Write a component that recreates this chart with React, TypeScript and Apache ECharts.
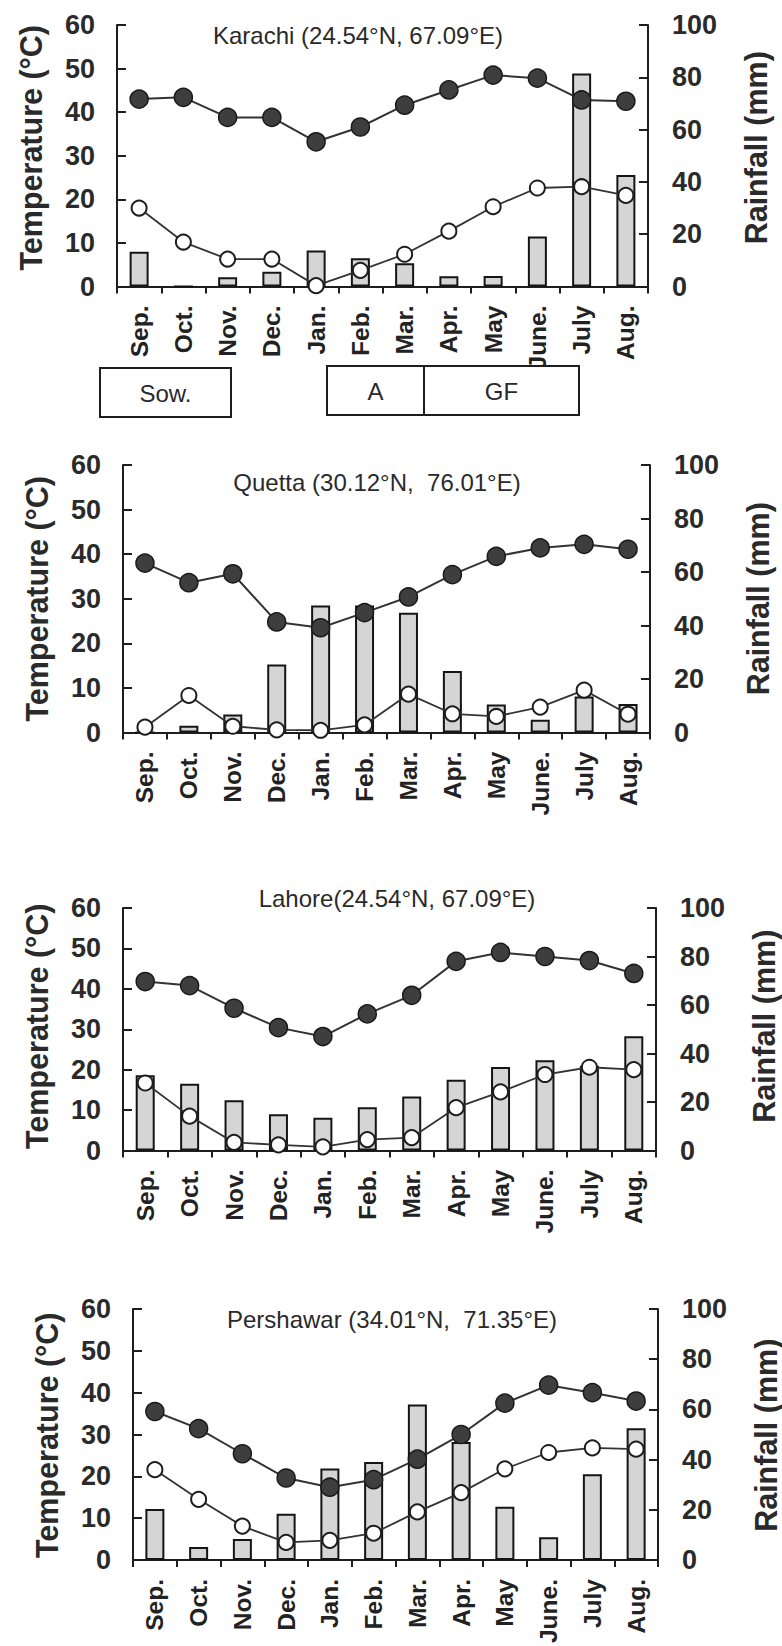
import React, { useEffect, useRef } from "react";
import * as echarts from "echarts";

const MONTHS = ["Sep.", "Oct.", "Nov.", "Dec.", "Jan.", "Feb.", "Mar.", "Apr.", "May", "June.", "July", "Aug."];
const TEMP_TICKS = [0, 10, 20, 30, 40, 50, 60];
const RAIN_TICKS = [0, 20, 40, 60, 80, 100];

const karachiTitle = "Karachi (24.54°N, 67.09°E)";
const karachiMax = [43, 43.4, 38.8, 38.8, 33.2, 36.6, 41.6, 45.1, 48.5, 47.8, 42.8, 42.5];
const karachiMin = [18, 10.2, 6.3, 6.3, 0.2, 3.7, 7.4, 12.7, 18.3, 22.6, 22.9, 20.9];
const karachiRain = [13.3, 0, 3.5, 5.6, 13.8, 10.8, 8.9, 3.9, 4, 19.1, 81.5, 42.6];

const quettaTitle = "Quetta (30.12°N,  76.01°E)";
const quettaMax = [38, 33.6, 35.6, 24.8, 23.5, 26.9, 30.4, 35.4, 39.5, 41.4, 42.2, 41.1];
const quettaMin = [1.2, 8.3, 1.4, 0.6, 0.5, 1.7, 8.6, 4.2, 3.6, 5.7, 9.5, 4.1];
const quettaRain = [0, 2.5, 6.7, 25.4, 47.5, 47.5, 44.8, 23, 10.5, 4.8, 13.5, 10.7];

const lahoreTitle = "Lahore(24.54°N, 67.09°E)";
const lahoreMax = [41.8, 40.8, 35.2, 30.4, 28.2, 33.8, 38.4, 46.8, 49, 48, 47, 43.8];
const lahoreMin = [16.7, 8.5, 2, 1.4, 0.9, 2.7, 3.2, 10.6, 14.5, 18.8, 20.6, 20];
const lahoreRain = [31, 27.5, 20.7, 14.9, 13.5, 17.8, 22.3, 29.2, 34.4, 37.2, 35, 47.1];

const pershawarTitle = "Pershawar (34.01°N,  71.35°E)";
const pershawarMax = [35.5, 31.4, 25.4, 19.6, 17.4, 19.2, 24.1, 30, 37.5, 41.8, 40, 38];
const pershawarMin = [21.6, 14.5, 8.1, 4.2, 4.7, 6.4, 11.5, 16.1, 21.8, 25.7, 26.8, 26.5];
const pershawarRain = [20.3, 5.2, 8.4, 18.4, 36.5, 39, 62, 47, 21.2, 9.1, 34.2, 52.5];

const STAGE_LABELS = ["Sow.", "A", "GF"];

const FONT = "'Liberation Sans', Arial, Helvetica, sans-serif";
const INK = "#1e1e1e";

// layout (pixels)
const PANELS = [
  { title: karachiTitle, max: karachiMax, min: karachiMin, rain: karachiRain, left: 117, right: 648, top: 25, bottom: 286.5, titleX: 358, titleY: 35, nameShift: -8 },
  { title: quettaTitle, max: quettaMax, min: quettaMin, rain: quettaRain, left: 123, right: 650, top: 465, bottom: 732.5, titleX: 377, titleY: 482, nameShift: 0 },
  { title: lahoreTitle, max: lahoreMax, min: lahoreMin, rain: lahoreRain, left: 123, right: 656, top: 908, bottom: 1150.5, titleX: 397, titleY: 898, nameShift: -3 },
  { title: pershawarTitle, max: pershawarMax, min: pershawarMin, rain: pershawarRain, left: 133, right: 658, top: 1309, bottom: 1561.5, titleX: 392, titleY: 1319, nameShift: 0 },
];

const STAGE_BOXES = [
  { x: 100, y: 368, w: 131, h: 49 },
  { x: 327, y: 366, w: 97, h: 49 },
  { x: 424, y: 366, w: 155, h: 49 },
];

function buildOption() {
  const grid: any[] = [];
  const xAxis: any[] = [];
  const yAxis: any[] = [];
  const series: any[] = [];
  const graphic: any[] = [];

  PANELS.forEach((p, i) => {
    grid.push({ left: p.left, top: p.top, width: p.right - p.left, height: p.bottom - p.top });
    xAxis.push({
      type: "category",
      gridIndex: i,
      data: MONTHS,
      boundaryGap: true,
      axisLine: { show: true, lineStyle: { color: INK, width: 2 } },
      axisTick: { show: true, inside: false, length: 7, alignWithLabel: false, lineStyle: { color: INK, width: 2 } },
      axisLabel: {
        interval: 0,
        rotate: 90,
        margin: 19,
        fontSize: 24.5,
        fontWeight: "bold",
        fontFamily: FONT,
        color: "#222",
      },
      splitLine: { show: false },
    });
    yAxis.push({
      type: "value",
      gridIndex: i,
      position: "left",
      min: TEMP_TICKS[0],
      max: TEMP_TICKS[TEMP_TICKS.length - 1],
      interval: TEMP_TICKS[1] - TEMP_TICKS[0],
      axisLine: { show: true, onZero: false, lineStyle: { color: INK, width: 2 } },
      axisTick: { show: true, inside: true, length: 9, lineStyle: { color: INK, width: 2 } },
      axisLabel: { margin: 22, fontSize: 27, fontWeight: "bold", fontFamily: FONT, color: "#2a2a2a" },
      splitLine: { show: false },
    });
    yAxis.push({
      type: "value",
      gridIndex: i,
      position: "right",
      min: RAIN_TICKS[0],
      max: RAIN_TICKS[RAIN_TICKS.length - 1],
      interval: RAIN_TICKS[1] - RAIN_TICKS[0],
      axisLine: { show: true, onZero: false, lineStyle: { color: INK, width: 2 } },
      axisTick: { show: true, inside: true, length: 9, lineStyle: { color: INK, width: 2 } },
      axisLabel: { margin: 24, fontSize: 27, fontWeight: "bold", fontFamily: FONT, color: "#2a2a2a" },
      splitLine: { show: false },
    });

    series.push({
      type: "bar",
      xAxisIndex: i,
      yAxisIndex: i * 2 + 1,
      data: p.rain,
      barWidth: 19,
      itemStyle: { color: "#d5d5d5", borderColor: "#151515", borderWidth: 2 },
      z: 2,
    });
    series.push({
      type: "line",
      xAxisIndex: i,
      yAxisIndex: i * 2,
      data: p.max,
      symbol: "circle",
      symbolSize: 18,
      itemStyle: { color: "#3e3e3e", borderColor: "#1a1a1a", borderWidth: 1.5 },
      lineStyle: { color: "#333", width: 2 },
      z: 3,
    });
    series.push({
      type: "line",
      xAxisIndex: i,
      yAxisIndex: i * 2,
      data: p.min,
      symbol: "circle",
      symbolSize: 15,
      itemStyle: { color: "#ffffff", borderColor: "#1e1e1e", borderWidth: 2 },
      lineStyle: { color: "#333", width: 1.8 },
      z: 4,
    });

    const midY = (p.top + p.bottom) / 2 + p.nameShift;
    graphic.push({
      type: "text",
      x: p.left - 86,
      y: midY,
      rotation: Math.PI / 2,
      style: {
        text: "Temperature (°C)",
        fontSize: 30.5,
        fontWeight: "bold",
        fontFamily: FONT,
        fill: "#2a2a2a",
        align: "center",
        verticalAlign: "middle",
      },
    });
    graphic.push({
      type: "text",
      x: p.right + 108,
      y: midY,
      rotation: Math.PI / 2,
      style: {
        text: "Rainfall (mm)",
        fontSize: 30.5,
        fontWeight: "bold",
        fontFamily: FONT,
        fill: "#2a2a2a",
        align: "center",
        verticalAlign: "middle",
      },
    });

    graphic.push({
      type: "text",
      x: p.titleX,
      y: p.titleY,
      style: {
        text: p.title,
        fontSize: 24,
        fontFamily: FONT,
        fill: "#2a2a2a",
        align: "center",
        verticalAlign: "middle",
      },
      z: 50,
    });
  });

  STAGE_BOXES.forEach((b, k) => {
    graphic.push({
      type: "rect",
      shape: { x: b.x, y: b.y, width: b.w, height: b.h },
      style: { fill: "#ffffff", stroke: INK, lineWidth: 2 },
      z: 100,
    });
    graphic.push({
      type: "text",
      x: b.x + b.w / 2,
      y: b.y + b.h / 2 + 1,
      style: {
        text: STAGE_LABELS[k],
        fontSize: 24,
        fontFamily: FONT,
        fill: "#2a2a2a",
        align: "center",
        verticalAlign: "middle",
      },
      z: 101,
    });
  });

  return {
    animation: false,
    backgroundColor: "#ffffff",
    grid,
    xAxis,
    yAxis,
    series,
    graphic,
  };
}

export default function App() {
  const ref = useRef<HTMLDivElement>(null);
  useEffect(() => {
    if (!ref.current) return;
    const chart = echarts.init(ref.current, null, { renderer: "svg" });
    chart.setOption(buildOption() as any);
    return () => chart.dispose();
  }, []);
  return (
    <div
      ref={ref}
      style={{ position: "absolute", left: 0, top: 0, width: 782, height: 1646, background: "#fff" }}
    />
  );
}
